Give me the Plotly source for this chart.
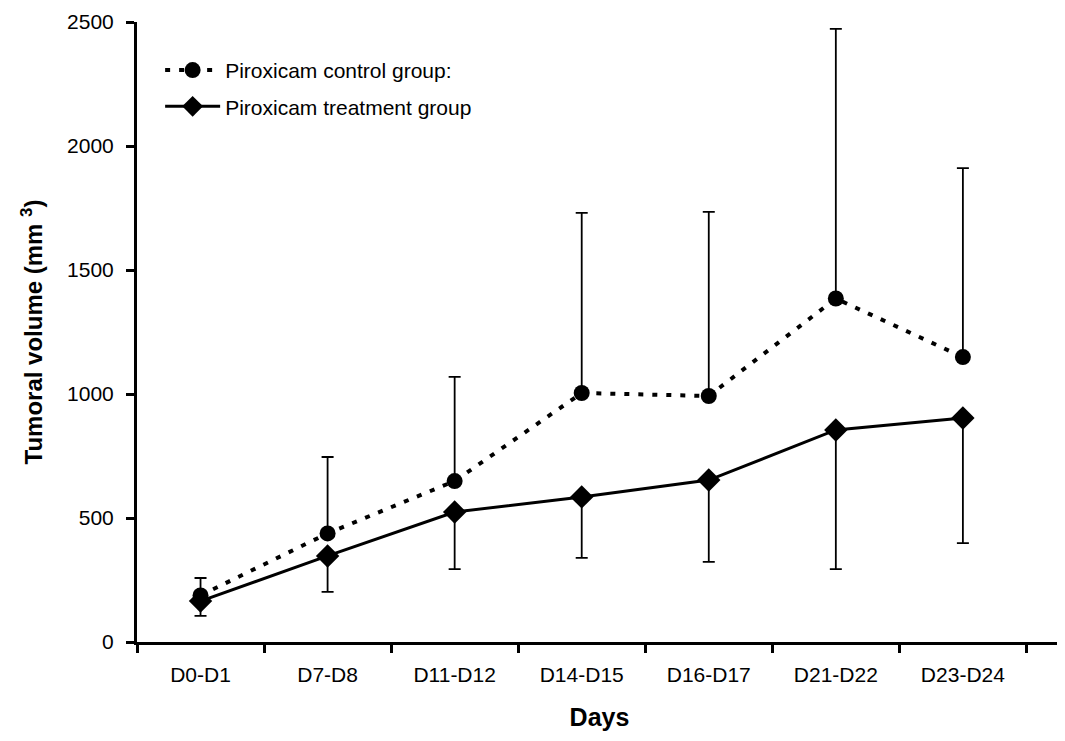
import plotly.graph_objects as go

days = ["D0-D1", "D7-D8", "D11-D12", "D14-D15", "D16-D17", "D21-D22", "D23-D24"]
control_mean = [188, 438, 649, 1004, 992, 1385, 1149]
control_upper = [258, 746, 1069, 1730, 1734, 2472, 1911]
treatment_mean = [165, 347, 524, 585, 653, 855, 903]
treatment_lower = [105, 202, 294, 339, 323, 294, 399]

control_err = [u - m for u, m in zip(control_upper, control_mean)]
treatment_err = [m - l for m, l in zip(treatment_mean, treatment_lower)]

fig = go.Figure()
fig.add_trace(go.Scatter(
    x=days, y=control_mean, mode="lines+markers",
    name="Piroxicam control group:", legendgroup="a",
    line=dict(color="black", width=4, dash="5px,9px"),
    marker=dict(symbol="circle", size=16, color="black"),
    error_y=dict(type="data", symmetric=False, array=control_err,
                 arrayminus=[0] * len(days), color="black", thickness=1.8, width=6),
))
fig.add_trace(go.Scatter(
    x=days, y=treatment_mean, mode="lines+markers",
    name="Piroxicam treatment group", legendgroup="b",
    line=dict(color="black", width=3),
    marker=dict(symbol="diamond", size=18, color="black"),
    error_y=dict(type="data", symmetric=False, array=[0] * len(days),
                 arrayminus=treatment_err, color="black", thickness=1.8, width=6),
))

# page body has an 8px default margin, so the figure is sized to fit the window
fig.update_layout(
    width=1057, height=733,
    margin=dict(l=129, r=3, t=14, b=99),
    plot_bgcolor="white", paper_bgcolor="white",
    font=dict(family="Liberation Sans, Arial, sans-serif", color="black", size=21),
    showlegend=True,
    legend=dict(x=0.025, y=0.955, xanchor="left", yanchor="top",
                font=dict(size=21), bgcolor="rgba(0,0,0,0)",
                tracegroupgap=6, itemwidth=55),
)
fig.update_xaxes(
    type="category", range=[-0.5, 6.78], automargin=False,
    showline=True, linecolor="black", linewidth=3,
    ticks="outside", tickson="boundaries", ticklen=8, tickwidth=3, tickcolor="black",
    ticklabelstandoff=12,
    showgrid=False, zeroline=False,
    tickfont=dict(size=21),
    title=dict(text="<b>Days</b>", font=dict(size=25), standoff=24),
)
fig.update_yaxes(
    range=[0, 2500], tickvals=[0, 500, 1000, 1500, 2000, 2500], automargin=False,
    showline=True, linecolor="black", linewidth=3,
    ticks="outside", ticklen=8, tickwidth=3, tickcolor="black",
    ticklabelstandoff=8,
    showgrid=False, zeroline=False,
    tickfont=dict(size=21),
    title=dict(text="<b>Tumoral volume (mm <sup>3</sup>)</b>", font=dict(size=24), standoff=18),
)

fig.write_html("out.html")
